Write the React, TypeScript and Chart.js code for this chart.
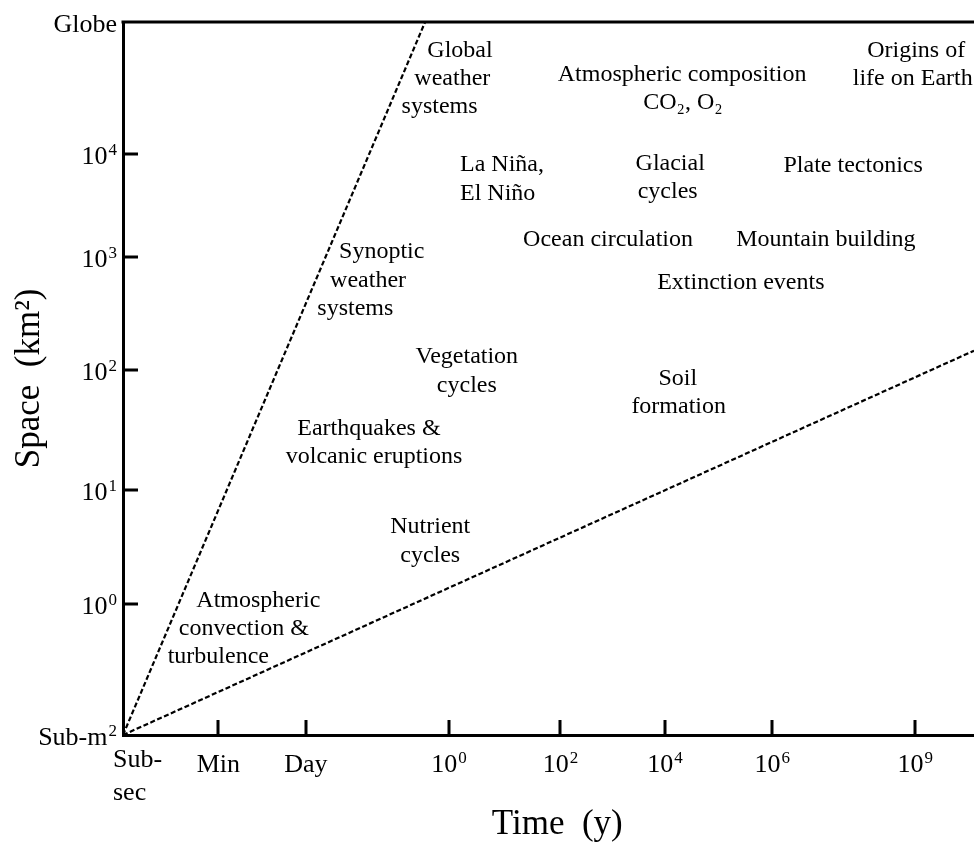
import React, { useEffect, useRef } from "react";
import { Chart, registerables } from "chart.js";

Chart.register(...registerables);

// Schematic axis positions (data units 0..10 on both axes)
const xTickValues = [0, 1.12, 2.15, 3.83, 5.14, 6.37, 7.63, 9.31];
const xTickLabels: (string | string[])[] = [["Sub-", "sec"], "Min", "Day", "10⁰", "10²", "10⁴", "10⁶", "10⁹"];
const yTickValues = [0, 1.84, 3.44, 5.12, 6.7, 8.15, 10];
const yTickLabels = ["Sub-m²", "10⁰", "10¹", "10²", "10³", "10⁴", "Globe"];

// Dashed boundary lines
const upperLimitLine = [
  { x: 0, y: 0 },
  { x: 3.55, y: 10 },
];
const lowerLimitLine = [
  { x: 0, y: 0 },
  { x: 10, y: 5.39 },
];

// Process labels (data coordinates, one entry per text line)
const processTexts = ["Global", "weather", "systems", "Atmospheric composition", "CO₂, O₂", "Origins of", "life on Earth", "La Niña,", "El Niño", "Glacial", "cycles", "Plate tectonics", "Ocean circulation", "Mountain building", "Synoptic", "weather", "systems", "Extinction events", "Vegetation", "cycles", "Soil", "formation", "Earthquakes &", "volcanic eruptions", "Nutrient", "cycles", "Atmospheric", "convection &", "turbulence"];
const processX = [3.96, 3.87, 3.72, 6.57, 6.58, 9.32, 9.28, 3.96, 3.96, 6.43, 6.4, 8.58, 5.7, 8.26, 3.04, 2.88, 2.73, 7.26, 4.04, 4.04, 6.52, 6.53, 2.89, 2.95, 3.61, 3.61, 1.59, 1.42, 1.12];
const processY = [9.51, 9.12, 8.72, 9.17, 8.78, 9.51, 9.12, 7.91, 7.5, 7.92, 7.53, 7.9, 6.86, 6.86, 6.69, 6.28, 5.89, 6.26, 5.22, 4.81, 4.91, 4.52, 4.21, 3.81, 2.83, 2.43, 1.8, 1.4, 1.01];
const processAlign = ["center", "center", "center", "center", "center", "center", "center", "left", "left", "center", "center", "center", "center", "center", "center", "center", "center", "center", "center", "center", "center", "center", "center", "center", "center", "center", "center", "center", "center"];

const FONT = '"Liberation Serif", "Times New Roman", "DejaVu Serif", serif';
const SUP_MAP: Record<string, string> = { "⁰": "0", "¹": "1", "²": "2", "³": "3", "⁴": "4", "⁵": "5", "⁶": "6", "⁷": "7", "⁸": "8", "⁹": "9" };

function splitSup(label: string): [string, string] {
  let i = label.length;
  while (i > 0 && SUP_MAP[label[i - 1]] !== undefined) i--;
  const base = label.slice(0, i);
  const sup = label
    .slice(i)
    .split("")
    .map((c) => SUP_MAP[c])
    .join("");
  return [base, sup];
}

function drawRich(ctx: CanvasRenderingContext2D, label: string, x: number, y: number, align: "center" | "right" | "left") {
  const [base, sup] = splitSup(label);
  ctx.textAlign = "left";
  ctx.textBaseline = "alphabetic";
  ctx.font = `26px ${FONT}`;
  const wb = ctx.measureText(base).width;
  ctx.font = `17px ${FONT}`;
  const ws = sup ? ctx.measureText(sup).width + 1 : 0;
  const total = wb + ws;
  let x0 = x;
  if (align === "center") x0 = x - total / 2;
  else if (align === "right") x0 = x - total;
  ctx.font = `26px ${FONT}`;
  ctx.fillText(base, x0, y);
  if (sup) {
    ctx.font = `17px ${FONT}`;
    ctx.fillText(sup, x0 + wb + 1, y - 9);
  }
}

const framePlugin = {
  id: "frameAndLabels",
  afterDraw(chart: any) {
    const { ctx, chartArea, scales } = chart;
    const xs = scales.x;
    const ys = scales.y;
    ctx.save();
    ctx.strokeStyle = "#000";
    ctx.lineWidth = 3;
    ctx.lineCap = "butt";
    // top frame line
    ctx.beginPath();
    ctx.moveTo(chartArea.left - 1.5, chartArea.top);
    ctx.lineTo(chart.width, chartArea.top);
    ctx.stroke();
    // inward tick marks
    ctx.beginPath();
    xTickValues.forEach((v) => {
      if (v === 0) return;
      const px = Math.round(xs.getPixelForValue(v));
      ctx.moveTo(px, chartArea.bottom);
      ctx.lineTo(px, chartArea.bottom - 15);
    });
    yTickValues.forEach((v, i) => {
      if (i === 0 || i === yTickValues.length - 1) return;
      const py = Math.round(ys.getPixelForValue(v));
      ctx.moveTo(chartArea.left, py);
      ctx.lineTo(chartArea.left + 15, py);
    });
    ctx.stroke();

    ctx.fillStyle = "#000";
    // x tick labels
    xTickValues.forEach((v, i) => {
      const px = xs.getPixelForValue(v);
      const lab = xTickLabels[i];
      if (Array.isArray(lab)) {
        ctx.font = `26px ${FONT}`;
        ctx.textAlign = "left";
        ctx.textBaseline = "alphabetic";
        lab.forEach((line, j) => ctx.fillText(line, px - 10, chartArea.bottom + 32 + j * 33));
      } else {
        drawRich(ctx, lab, px, chartArea.bottom + 37, "center");
      }
    });
    // y tick labels
    yTickValues.forEach((v, i) => {
      const py = ys.getPixelForValue(v);
      drawRich(ctx, yTickLabels[i], chartArea.left - 6, py + 10, "right");
    });

    // process labels
    ctx.font = `24px ${FONT}`;
    ctx.textBaseline = "alphabetic";
    processTexts.forEach((t, i) => {
      ctx.textAlign = processAlign[i] as CanvasTextAlign;
      ctx.fillText(t, xs.getPixelForValue(processX[i]), ys.getPixelForValue(processY[i]));
    });
    ctx.restore();
  },
};

export default function App() {
  const ref = useRef<HTMLCanvasElement | null>(null);
  useEffect(() => {
    document.body.style.margin = "0";
    const canvas = ref.current;
    if (!canvas) return;
    const chart = new Chart(canvas, {
      type: "scatter",
      data: {
        datasets: [
          {
            label: "upper",
            data: upperLimitLine,
            showLine: true,
            borderColor: "#000",
            borderWidth: 2.2,
            borderDash: [5, 2.5],
            pointRadius: 0,
            fill: false,
          },
          {
            label: "lower",
            data: lowerLimitLine,
            showLine: true,
            borderColor: "#000",
            borderWidth: 2.2,
            borderDash: [5, 2.5],
            pointRadius: 0,
            fill: false,
          },
        ],
      },
      options: {
        animation: false,
        responsive: false,
        layout: { padding: { top: 22, right: 0, left: 0, bottom: 0 } },
        plugins: { legend: { display: false }, tooltip: { enabled: false } },
        scales: {
          x: {
            type: "linear",
            min: 0,
            max: 10,
            afterFit(scale: any) {
              scale.height = 108;
            },
            afterBuildTicks(scale: any) {
              scale.ticks = xTickValues.map((v) => ({ value: v }));
            },
            grid: { display: false, drawTicks: false },
            border: { display: true, color: "#000", width: 3 },
            ticks: { display: false },
            title: {
              display: true,
              text: "  Time  (y)",
              color: "#000",
              font: { family: FONT, size: 35, lineHeight: 1.2 },
              padding: { top: 0, bottom: -3 },
            },
          },
          y: {
            type: "linear",
            min: 0,
            max: 10,
            afterFit(scale: any) {
              scale.width = 123;
            },
            afterBuildTicks(scale: any) {
              scale.ticks = yTickValues.map((v) => ({ value: v }));
            },
            grid: { display: false, drawTicks: false },
            border: { display: true, color: "#000", width: 3 },
            ticks: { display: false },
            title: {
              display: true,
              text: "Space  (km²)",
              color: "#000",
              font: { family: FONT, size: 35, lineHeight: 1.2 },
              padding: { top: 9, bottom: 0 },
            },
          },
        },
      },
      plugins: [framePlugin],
    });
    return () => chart.destroy();
  }, []);
  return (
    <div style={{ width: 974, height: 843, overflow: "hidden" }}>
      <canvas ref={ref} width={974} height={843} style={{ display: "block" }} />
    </div>
  );
}
